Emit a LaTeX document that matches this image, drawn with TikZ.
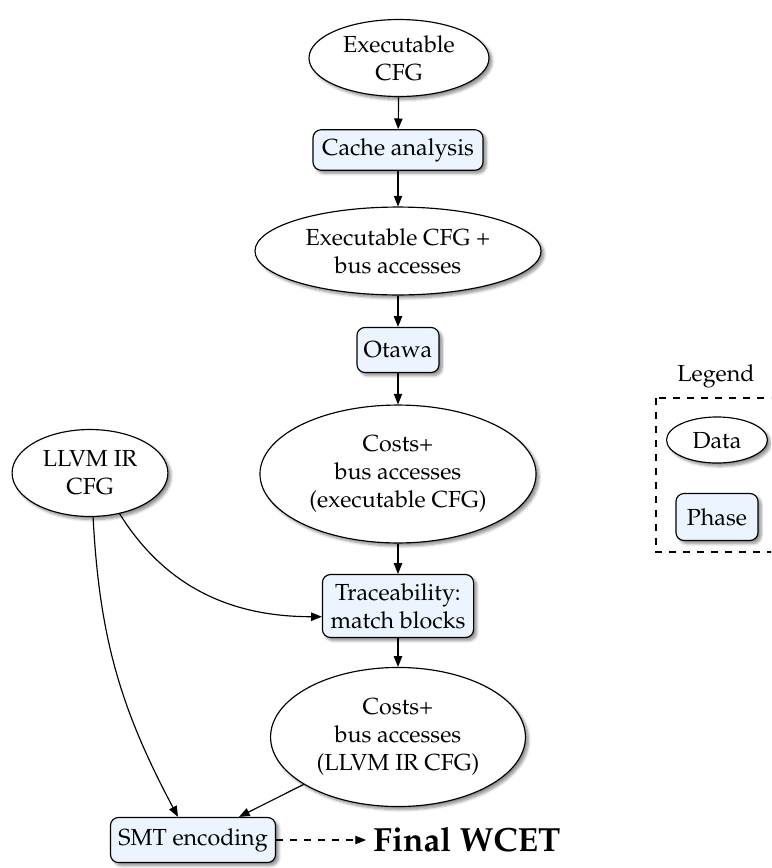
\documentclass[tikz,border=0pt]{standalone}
\usepackage[T1]{fontenc}
\usepackage{mathpazo}
\usetikzlibrary{shapes.geometric,shadows.blur,arrows.meta}
\definecolor{phasefill}{RGB}{236,245,255}
\tikzset{
  shade/.style={blur shadow={shadow xshift=1.3pt,shadow yshift=-1.3pt,shadow blur radius=1.2pt,shadow blur steps=6,shadow opacity=45}},
  data/.style={ellipse,draw,fill=white,shade,align=center,inner sep=0pt,line width=0.5pt},
  phase/.style={rectangle,rounded corners=3.5pt,draw,fill=phasefill,shade,align=center,inner sep=0pt,line width=0.5pt},
  flow/.style={-{Triangle[length=4.6pt,width=3.6pt]},line width=0.5pt},
}
\begin{document}
\begin{tikzpicture}[x=0.43pt,y=-0.43pt]
\useasboundingbox (0,0) rectangle (771,868);
\clip (0,0) rectangle (771,868);

% main chain
\node[data,minimum width=77.4pt,minimum height=33.1pt] (ecfg) at (399,58) {Executable\\CFG};
\node[phase,minimum width=73.1pt,minimum height=17.4pt] (cache) at (398,150) {Cache analysis};
\node[data,minimum width=123pt,minimum height=37.8pt] (ebus) at (398,251) {Executable CFG +\\bus accesses};
\node[phase,minimum width=35.3pt,minimum height=19.4pt] (otawa) at (398,350) {Otawa};
\node[data,minimum width=118.7pt,minimum height=59.3pt] (costexe) at (398,474) {Costs+\\bus accesses\\(executable CFG)};
\node[data,minimum width=67pt,minimum height=37.4pt] (llvm) at (90,473) {LLVM IR\\CFG};
\node[phase,minimum width=65pt,minimum height=27.1pt] (trace) at (398,606) {Traceability:\\match blocks};
\node[data,minimum width=109.6pt,minimum height=59.8pt] (costllvm) at (398,737) {Costs+\\bus accesses\\(LLVM IR CFG)};
\node[phase,minimum width=71pt,minimum height=19.4pt] (smt) at (193,840) {SMT encoding};
\node[inner sep=0pt,anchor=west] (wcet) at (373,840) {\Large\bfseries Final WCET};

% legend
\node (legtitle) at (716,376) {Legend};
\draw[dashed,line width=0.5pt] (656,398) rectangle (800,552);
\node[data,minimum width=43.4pt,minimum height=19.8pt] (legdata) at (717,440) {Data};
\node[phase,minimum width=35.3pt,minimum height=20.2pt] (legphase) at (717,517) {Phase};

% connectors
\draw[flow] (ecfg) -- (cache);
\draw[flow] (cache) -- (ebus);
\draw[flow] (ebus) -- (otawa);
\draw[flow] (otawa) -- (costexe);
\draw[flow] (costexe) -- (trace);
\draw[flow] (trace) -- (costllvm);
\draw[flow] (llvm.-54) to[out=-58,in=180] (trace.188);
\draw[flow] (llvm.-86) to[out=-87,in=118] (smt.123);
\draw[flow] (costllvm) -- (smt);
\draw[flow,dashed] (smt.east) -- ([xshift=-3pt]wcet.west);
\end{tikzpicture}
\end{document}
